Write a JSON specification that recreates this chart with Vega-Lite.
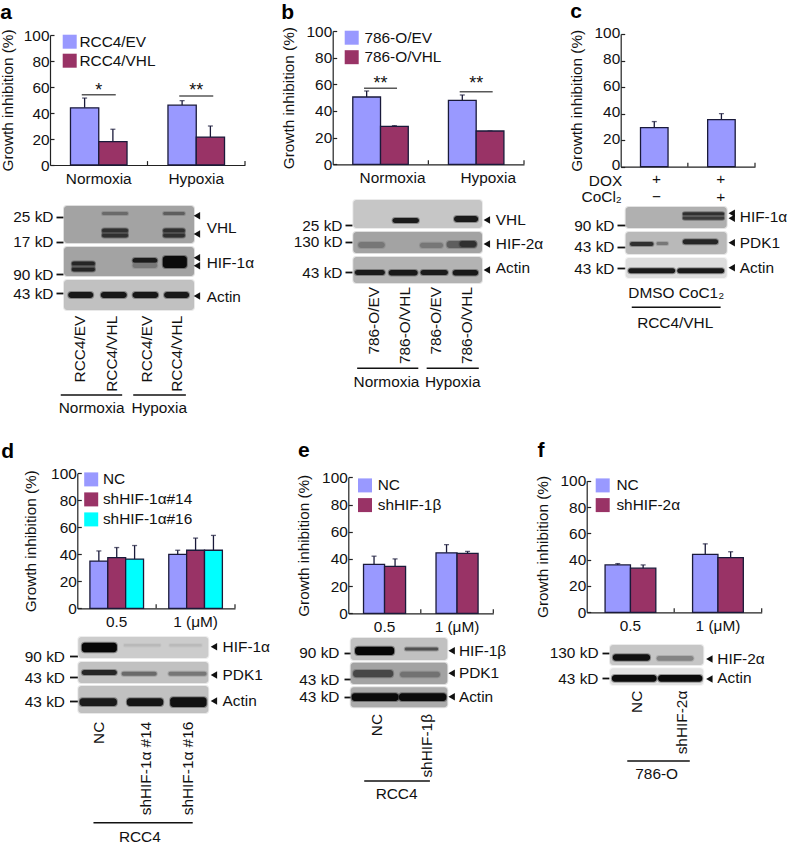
{"$schema":"https://vega.github.io/schema/vega-lite/v6.json","width":788,"height":846,"autosize":{"type":"none"},"padding":0,"background":"white",
"config":{"view":{"stroke":null},"text":{"font":"Liberation Sans","fontSize":15.4,"color":"#111"},"axis":{"labelFont":"Liberation Sans","labelFontSize":15.4,"labelColor":"#111","titleFont":"Liberation Sans","titleFontSize":15.3,"titleFontWeight":"normal","titleColor":"#111","grid":false,"domainColor":"#222","tickColor":"#222","domainWidth":1.2,"tickWidth":1.2,"labelOverlap":false,"labelFlush":false,"labelBound":false},"legend":{"labelFont":"Liberation Sans","labelFontSize":15.4,"labelColor":"#111","labelLimit":300}},
"resolve":{"scale":{"x":"independent","y":"independent","color":"independent","xOffset":"independent"},"axis":{"x":"independent","y":"independent"},"legend":{"color":"independent"}},
"layer":[
{"data":{"values":[{"c":"Normoxia","s":"RCC4/EV","v":44,"hi":51.5},{"c":"Normoxia","s":"RCC4/VHL","v":18,"hi":27.5},{"c":"Hypoxia","s":"RCC4/EV","v":46,"hi":49.5},{"c":"Hypoxia","s":"RCC4/VHL","v":21.5,"hi":30}]},
"encoding":{"x":{"field":"c","type":"nominal","sort":null,"scale":{"domain":["Normoxia","Hypoxia"],"range":[50,245],"paddingInner":0.42,"paddingOuter":0.21},"axis":{"orient":"bottom","offset":-681,"ticks":false,"labelPadding":6,"labelAngle":0,"title":null}},"y":{"field":"v","type":"quantitative","scale":{"domain":[0,100],"range":[165,35]},"axis":{"orient":"left","offset":-50,"values":[0,20,40,60,80,100],"tickSize":-4,"labelPadding":5,"title":"Growth inhibition (%)","titlePadding":8}}},
"layer":[
{"mark":{"type":"rule","color":"#1a1a3a","strokeWidth":1.3},"encoding":{"xOffset":{"field":"s","type":"nominal"},"y2":{"field":"hi"}}},
{"mark":{"type":"tick","orient":"horizontal","size":5,"thickness":1.3,"color":"#1a1a3a"},"encoding":{"xOffset":{"field":"s","type":"nominal"},"y":{"field":"hi","type":"quantitative"}}},
{"mark":{"type":"bar","stroke":"#1a1a3a","strokeWidth":1.3,"opacity":1},"encoding":{"xOffset":{"field":"s","type":"nominal"},"color":{"field":"s","type":"nominal","scale":{"domain":["RCC4/EV","RCC4/VHL"],"range":["#9999ff","#993366"]},"legend":{"orient":"none","legendX":62,"legendY":34,"title":null,"symbolType":"square","symbolSize":196,"symbolStrokeWidth":0,"labelOffset":2,"rowPadding":2,"padding":0}}}},
{"data":{"values":[{"c":"Normoxia","v":54},{"c":"Hypoxia","v":53}]},"mark":{"type":"tick","orient":"horizontal","size":34,"thickness":1.5,"color":"#111"}},
{"data":{"values":[{"c":"Normoxia","v":57,"t":"*"},{"c":"Hypoxia","v":57,"t":"**"}]},"mark":{"type":"text","fontSize":18},"encoding":{"text":{"field":"t"}}}
]},
{"data":{"values":[{"b":1},{"b":2}]},"mark":{"type":"rule","color":"#222","strokeWidth":1.2},"encoding":{"x":{"field":"b","type":"quantitative","scale":{"domain":[0,2],"range":[50,245]},"axis":null},"y":{"datum":0,"scale":{"domain":[0,100],"range":[165,35]},"axis":null},"y2":{"datum":3}}},
{"encoding":{"x":{"field":"x","type":"quantitative","scale":{"domain":[0,4],"range":[64,194]},"axis":null},"y":{"field":"y","type":"quantitative","scale":{"domain":[0,210],"range":[206,416]},"axis":{"orient":"left","offset":-63,"values":[10.7,35.7,68.3,87.3],"labelExpr":"datum.value==10.7?'25 kD':datum.value==35.7?'17 kD':datum.value==68.3?'90 kD':'43 kD'","tickSize":7,"tickWidth":1.8,"tickColor":"#111","domain":false,"labelPadding":3,"title":null}}},
"layer":[
{"data":{"values":[{"x":0,"x1":4,"y":0,"y1":37,"ink":0.33},{"x":0,"x1":4,"y":41,"y1":70,"ink":0.33},{"x":0,"x1":4,"y":74,"y1":104,"ink":0.22},{"x":1.17,"x1":1.97,"y":6,"y1":9,"ink":0.55},{"x":3.05,"x1":3.72,"y":6,"y1":9,"ink":0.6},{"x":1.17,"x1":1.97,"y":22,"y1":32,"ink":0.6},{"x":1.17,"x1":1.97,"y":23,"y1":26,"ink":0.8},{"x":1.17,"x1":1.97,"y":28,"y1":31,"ink":0.8},{"x":3.05,"x1":3.72,"y":22,"y1":32,"ink":0.6},{"x":3.05,"x1":3.72,"y":23,"y1":26,"ink":0.8},{"x":3.05,"x1":3.72,"y":28,"y1":31,"ink":0.8},{"x":0.24,"x1":0.95,"y":55,"y1":66,"ink":0.6},{"x":0.24,"x1":0.95,"y":56,"y1":59,"ink":0.85},{"x":0.24,"x1":0.95,"y":62,"y1":65,"ink":0.85},{"x":2.11,"x1":2.87,"y":52,"y1":57,"ink":0.9},{"x":2.11,"x1":2.87,"y":57,"y1":62,"ink":0.5},{"x":3.04,"x1":3.78,"y":50,"y1":62,"ink":0.97},{"x":0.13,"x1":0.9,"y":86,"y1":92,"ink":0.92},{"x":1.13,"x1":1.93,"y":86,"y1":92,"ink":0.92},{"x":2.11,"x1":2.9,"y":86,"y1":92,"ink":0.92},{"x":3.08,"x1":3.85,"y":86,"y1":92,"ink":0.92}]},"mark":{"type":"rect","strokeWidth":2,"strokeOpacity":0.35,"cornerRadius":3},"encoding":{"x2":{"field":"x1"},"y2":{"field":"y1"},"fill":{"field":"ink","type":"quantitative","scale":{"domain":[0,1],"range":["#ffffff","#000000"]},"legend":null},"stroke":{"field":"ink","type":"quantitative","scale":{"domain":[0,1],"range":["#ffffff","#000000"]},"legend":null}}},
{"data":{"values":[{"x":4.09,"y":9.7},{"x":4.09,"y":28},{"x":4.09,"y":51.7},{"x":4.09,"y":59.7},{"x":4.09,"y":90}]},"mark":{"type":"point","shape":"triangle-left","filled":true,"size":55,"color":"#111","opacity":1}},
{"data":{"values":[{"x":4.39,"y":21.7,"t":"VHL"},{"x":4.39,"y":57,"t":"HIF-1α"},{"x":4.39,"y":90.7,"t":"Actin"}]},"mark":{"type":"text","align":"left","baseline":"middle"},"encoding":{"text":{"field":"t"}}},
{"data":{"values":[{"x":0.49,"y":109.7,"t":"RCC4/EV"},{"x":1.47,"y":109.7,"t":"RCC4/VHL"},{"x":2.56,"y":109.7,"t":"RCC4/EV"},{"x":3.48,"y":109.7,"t":"RCC4/VHL"}]},"mark":{"type":"text","angle":270,"align":"right","baseline":"middle"},"encoding":{"text":{"field":"t"}}},
{"data":{"values":[{"x":0.85,"y":202,"t":"Normoxia"},{"x":2.93,"y":202,"t":"Hypoxia"}]},"mark":{"type":"text","baseline":"middle"},"encoding":{"text":{"field":"t"}}},
{"data":{"values":[{"x":-0.1,"x1":1.79,"y":189},{"x":2.13,"x1":3.75,"y":189}]},"mark":{"type":"rule","color":"#111","strokeWidth":1.5},"encoding":{"x2":{"field":"x1"}}},
{"data":{"values":[{"x":-1.78,"y":-187,"t":"a"}]},"mark":{"type":"text","fontSize":21,"fontWeight":"bold","baseline":"alphabetic","color":"#000"},"encoding":{"text":{"field":"t"}}}
]},

{"data":{"values":[{"c":"Normoxia","s":"786-O/EV","v":50.5,"hi":55},{"c":"Normoxia","s":"786-O/VHL","v":28.5,"hi":29},{"c":"Hypoxia","s":"786-O/EV","v":48,"hi":52},{"c":"Hypoxia","s":"786-O/VHL","v":25,"hi":25}]},
"encoding":{"x":{"field":"c","type":"nominal","sort":null,"scale":{"domain":["Normoxia","Hypoxia"],"range":[332.7,524],"paddingInner":0.42,"paddingOuter":0.21},"axis":{"orient":"bottom","offset":-681.7,"ticks":false,"labelPadding":6,"labelOffset":12,"labelAngle":0,"title":null}},"y":{"field":"v","type":"quantitative","scale":{"domain":[0,100],"range":[164.3,31]},"axis":{"orient":"left","offset":-332.7,"values":[0,20,40,60,80,100],"tickSize":-4,"labelPadding":5,"title":"Growth inhibition (%)","titlePadding":10}}},
"layer":[
{"mark":{"type":"rule","color":"#1a1a3a","strokeWidth":1.3},"encoding":{"xOffset":{"field":"s","type":"nominal"},"y2":{"field":"hi"}}},
{"mark":{"type":"tick","orient":"horizontal","size":5,"thickness":1.3,"color":"#1a1a3a"},"encoding":{"xOffset":{"field":"s","type":"nominal"},"y":{"field":"hi","type":"quantitative"}}},
{"mark":{"type":"bar","stroke":"#1a1a3a","strokeWidth":1.3,"opacity":1},"encoding":{"xOffset":{"field":"s","type":"nominal"},"color":{"field":"s","type":"nominal","scale":{"domain":["786-O/EV","786-O/VHL"],"range":["#9999ff","#993366"]},"legend":{"orient":"none","legendX":344,"legendY":30,"title":null,"symbolType":"square","symbolSize":196,"symbolStrokeWidth":0,"labelOffset":5,"rowPadding":2.5,"padding":0}}}},
{"data":{"values":[{"c":"Normoxia","v":57},{"c":"Hypoxia","v":54.5}]},"mark":{"type":"tick","orient":"horizontal","size":33,"thickness":1.5,"color":"#111"}},
{"data":{"values":[{"c":"Normoxia","v":60,"t":"**"},{"c":"Hypoxia","v":60,"t":"**"}]},"mark":{"type":"text","fontSize":18},"encoding":{"text":{"field":"t"}}}
]},
{"data":{"values":[{"b":1},{"b":2}]},"mark":{"type":"rule","color":"#222","strokeWidth":1.2},"encoding":{"x":{"field":"b","type":"quantitative","scale":{"domain":[0,2],"range":[332.7,524]},"axis":null},"y":{"datum":0,"scale":{"domain":[0,100],"range":[164.3,31]},"axis":null},"y2":{"datum":3}}},
{"encoding":{"x":{"field":"x","type":"quantitative","scale":{"domain":[0,4],"range":[353.3,482]},"axis":null},"y":{"field":"y","type":"quantitative","scale":{"domain":[0,190],"range":[200,390]},"axis":{"orient":"left","offset":-352,"values":[25,41.7,72.3],"labelExpr":"datum.value==25?'25 kD':datum.value==41.7?'130 kD':'43 kD'","tickSize":7,"tickWidth":1.8,"tickColor":"#111","domain":false,"labelPadding":3,"title":null}}},
"layer":[
{"data":{"values":[{"x":0,"x1":4,"y":0,"y1":28,"ink":0.2},{"x":0,"x1":4,"y":32,"y1":53,"ink":0.33},{"x":0,"x1":4,"y":57,"y1":83,"ink":0.27},{"x":1.22,"x1":2.04,"y":18,"y1":23,"ink":0.9},{"x":3.13,"x1":3.88,"y":16,"y1":22,"ink":0.9},{"x":0.15,"x1":0.98,"y":42,"y1":48,"ink":0.5},{"x":2.07,"x1":2.79,"y":42.7,"y1":48,"ink":0.5},{"x":2.9,"x1":3.83,"y":41,"y1":48,"ink":0.6},{"x":3.3,"x1":3.83,"y":41,"y1":47,"ink":0.8},{"x":0.05,"x1":0.98,"y":70,"y1":75,"ink":0.9},{"x":1.1,"x1":2,"y":70,"y1":75.5,"ink":0.92},{"x":2.09,"x1":2.94,"y":70,"y1":75,"ink":0.9},{"x":3.09,"x1":3.88,"y":70,"y1":75.5,"ink":0.92}]},"mark":{"type":"rect","strokeWidth":2,"strokeOpacity":0.35,"cornerRadius":3},"encoding":{"x2":{"field":"x1"},"y2":{"field":"y1"},"fill":{"field":"ink","type":"quantitative","scale":{"domain":[0,1],"range":["#ffffff","#000000"]},"legend":null},"stroke":{"field":"ink","type":"quantitative","scale":{"domain":[0,1],"range":["#ffffff","#000000"]},"legend":null}}},
{"data":{"values":[{"x":4.15,"y":20},{"x":4.15,"y":44},{"x":4.15,"y":70}]},"mark":{"type":"point","shape":"triangle-left","filled":true,"size":55,"color":"#111","opacity":1}},
{"data":{"values":[{"x":4.43,"y":20,"t":"VHL"},{"x":4.43,"y":44,"t":"HIF-2α"},{"x":4.43,"y":68,"t":"Actin"}]},"mark":{"type":"text","align":"left","baseline":"middle"},"encoding":{"text":{"field":"t"}}},
{"data":{"values":[{"x":0.65,"y":87,"t":"786-O/EV"},{"x":1.6,"y":87,"t":"786-O/VHL"},{"x":2.56,"y":87,"t":"786-O/EV"},{"x":3.52,"y":87,"t":"786-O/VHL"}]},"mark":{"type":"text","angle":270,"align":"right","baseline":"middle"},"encoding":{"text":{"field":"t"}}},
{"data":{"values":[{"x":1.03,"y":181.7,"t":"Normoxia"},{"x":3.09,"y":181.7,"t":"Hypoxia"}]},"mark":{"type":"text","baseline":"middle"},"encoding":{"text":{"field":"t"}}},
{"data":{"values":[{"x":0.12,"x1":2.02,"y":168.3},{"x":2.28,"x1":3.9,"y":168.3}]},"mark":{"type":"rule","color":"#111","strokeWidth":1.5},"encoding":{"x2":{"field":"x1"}}},
{"data":{"values":[{"x":-2.04,"y":-181,"t":"b"}]},"mark":{"type":"text","fontSize":21,"fontWeight":"bold","baseline":"alphabetic","color":"#000"},"encoding":{"text":{"field":"t"}}}
]},

{"data":{"values":[{"c":"A","v":29.5,"hi":34},{"c":"B","v":35.5,"hi":40}]},
"encoding":{"x":{"field":"c","type":"nominal","sort":null,"scale":{"domain":["A","B"],"range":[620.7,755],"paddingInner":0.59,"paddingOuter":0.295},"axis":{"orient":"bottom","offset":-679.3,"ticks":false,"labels":false,"title":null}},"y":{"field":"v","type":"quantitative","scale":{"domain":[0,100],"range":[166.7,34]},"axis":{"orient":"left","offset":-620.7,"values":[0,20,40,60,80,100],"tickSize":-4,"labelPadding":5,"labelOffset":-2,"title":"Growth inhibition (%)","titlePadding":10}}},
"layer":[
{"mark":{"type":"rule","color":"#1a1a3a","strokeWidth":1.3},"encoding":{"y2":{"field":"hi"}}},
{"mark":{"type":"tick","orient":"horizontal","size":5,"thickness":1.3,"color":"#1a1a3a"},"encoding":{"y":{"field":"hi","type":"quantitative"}}},
{"mark":{"type":"bar","color":"#9999ff","stroke":"#1a1a3a","strokeWidth":1.3}}
]},
{"data":{"values":[{"b":1},{"b":2}]},"mark":{"type":"rule","color":"#222","strokeWidth":1.2},"encoding":{"x":{"field":"b","type":"quantitative","scale":{"domain":[0,2],"range":[620.7,755]},"axis":null},"y":{"datum":0,"scale":{"domain":[0,100],"range":[166.7,34]},"axis":null},"y2":{"datum":3}}},
{"encoding":{"x":{"field":"x","type":"quantitative","scale":{"domain":[0,2],"range":[625.7,726.7]},"axis":null},"y":{"field":"y","type":"quantitative","scale":{"domain":[0,130],"range":[207,337]},"axis":{"orient":"left","offset":-625,"values":[18,39.7,61.3],"labelExpr":"datum.value==18?'90 kD':'43 kD'","tickSize":8,"tickWidth":1.8,"tickColor":"#111","domain":false,"labelPadding":3,"title":null}}},
"layer":[
{"data":{"values":[{"x":0,"x1":2,"y":0,"y1":21,"ink":0.28},{"x":0,"x1":2,"y":25,"y1":47,"ink":0.25},{"x":0,"x1":2,"y":51,"y1":71,"ink":0.12},{"x":1.13,"x1":1.95,"y":5,"y1":13,"ink":0.55},{"x":1.13,"x1":1.95,"y":5.5,"y1":8,"ink":0.8},{"x":1.13,"x1":1.95,"y":10,"y1":12.5,"ink":0.75},{"x":0.085,"x1":0.55,"y":35,"y1":39,"ink":0.8},{"x":0.61,"x1":0.84,"y":35,"y1":38,"ink":0.5},{"x":1.13,"x1":1.83,"y":32.3,"y1":37.3,"ink":0.85},{"x":0.05,"x1":0.98,"y":61.3,"y1":66.3,"ink":0.9},{"x":1.02,"x1":1.95,"y":61.3,"y1":66.3,"ink":0.9}]},"mark":{"type":"rect","strokeWidth":2,"strokeOpacity":0.35,"cornerRadius":3},"encoding":{"x2":{"field":"x1"},"y2":{"field":"y1"},"fill":{"field":"ink","type":"quantitative","scale":{"domain":[0,1],"range":["#ffffff","#000000"]},"legend":null},"stroke":{"field":"ink","type":"quantitative","scale":{"domain":[0,1],"range":["#ffffff","#000000"]},"legend":null}}},
{"data":{"values":[{"x":2.1,"y":6.3},{"x":2.1,"y":11.3},{"x":2.1,"y":35.7},{"x":2.1,"y":60.7}]},"mark":{"type":"point","shape":"triangle-left","filled":true,"size":55,"color":"#111","opacity":1}},
{"data":{"values":[{"x":2.26,"y":10.3,"t":"HIF-1α"},{"x":2.26,"y":35.7,"t":"PDK1"},{"x":2.26,"y":60.7,"t":"Actin"}]},"mark":{"type":"text","align":"left","baseline":"middle"},"encoding":{"text":{"field":"t"}}},
{"data":{"values":[{"x":-0.4,"y":-26.5,"t":"DOX"},{"x":0.61,"y":-27.7,"t":"+"},{"x":1.88,"y":-27.7,"t":"+"},{"x":-0.475,"y":-9.7,"t":"CoCl₂"},{"x":0.61,"y":-9.7,"t":"−"},{"x":1.88,"y":-9.7,"t":"+"},{"x":0.51,"y":85.7,"t":"DMSO"},{"x":1.5,"y":85.7,"t":"CoC1₂"},{"x":0.98,"y":115.7,"t":"RCC4/VHL"}]},"mark":{"type":"text","baseline":"middle"},"encoding":{"text":{"field":"t"}}},
{"data":{"values":[{"x":0.12,"x1":1.88,"y":100.3}]},"mark":{"type":"rule","color":"#111","strokeWidth":1.5},"encoding":{"x2":{"field":"x1"}}},
{"data":{"values":[{"x":-0.98,"y":-189,"t":"c"}]},"mark":{"type":"text","fontSize":21,"fontWeight":"bold","baseline":"alphabetic","color":"#000"},"encoding":{"text":{"field":"t"}}}
]},

{"data":{"values":[{"c":"0.5","s":"NC","v":35,"hi":42.5},{"c":"0.5","s":"shHIF-1α#14","v":37.5,"hi":45},{"c":"0.5","s":"shHIF-1α#16","v":36.5,"hi":46.5},{"c":"1 (μM)","s":"NC","v":40,"hi":43},{"c":"1 (μM)","s":"shHIF-1α#14","v":43,"hi":52},{"c":"1 (μM)","s":"shHIF-1α#16","v":43,"hi":54}]},
"encoding":{"x":{"field":"c","type":"nominal","sort":null,"scale":{"domain":["0.5","1 (μM)"],"range":[77.3,235],"paddingInner":0.32,"paddingOuter":0.16},"axis":{"orient":"bottom","offset":-237.7,"ticks":false,"labelPadding":6,"labelAngle":0,"title":null}},"y":{"field":"v","type":"quantitative","scale":{"domain":[0,100],"range":[608.3,473.3]},"axis":{"orient":"left","offset":-77.3,"values":[0,20,40,60,80,100],"tickSize":-4,"labelPadding":5,"title":"Growth inhibition (%)","titlePadding":12}}},
"layer":[
{"mark":{"type":"rule","color":"#1a1a3a","strokeWidth":1.3},"encoding":{"xOffset":{"field":"s","type":"nominal"},"y2":{"field":"hi"}}},
{"mark":{"type":"tick","orient":"horizontal","size":5,"thickness":1.3,"color":"#1a1a3a"},"encoding":{"xOffset":{"field":"s","type":"nominal"},"y":{"field":"hi","type":"quantitative"}}},
{"mark":{"type":"bar","stroke":"#1a1a3a","strokeWidth":1.3,"opacity":1},"encoding":{"xOffset":{"field":"s","type":"nominal"},"color":{"field":"s","type":"nominal","scale":{"domain":["NC","shHIF-1α#14","shHIF-1α#16"],"range":["#9999ff","#993366","#00ffff"]},"legend":{"orient":"none","legendX":83.5,"legendY":471.7,"title":null,"symbolType":"square","symbolSize":196,"symbolStrokeWidth":0,"labelOffset":4,"rowPadding":3,"padding":0}}}}
]},
{"data":{"values":[{"b":1},{"b":2}]},"mark":{"type":"rule","color":"#222","strokeWidth":1.2},"encoding":{"x":{"field":"b","type":"quantitative","scale":{"domain":[0,2],"range":[77.3,235]},"axis":null},"y":{"datum":0,"scale":{"domain":[0,100],"range":[608.3,473.3]},"axis":null},"y2":{"datum":3}}},
{"encoding":{"x":{"field":"x","type":"quantitative","scale":{"domain":[0,3],"range":[78.3,208.3]},"axis":null},"y":{"field":"y","type":"quantitative","scale":{"domain":[0,205],"range":[637,842]},"axis":{"orient":"left","offset":-77.5,"values":[19,40.3,64],"labelExpr":"datum.value==19?'90 kD':'43 kD'","tickSize":8,"tickWidth":1.8,"tickColor":"#111","domain":false,"labelPadding":5,"title":null}}},
"layer":[
{"data":{"values":[{"x":0,"x1":3,"y":0,"y1":21,"ink":0.18},{"x":0,"x1":3,"y":25,"y1":46,"ink":0.22},{"x":0,"x1":3,"y":49,"y1":76,"ink":0.22},{"x":0.08,"x1":0.89,"y":5.7,"y1":15.3,"ink":0.98},{"x":1.05,"x1":1.9,"y":7,"y1":9.5,"ink":0.25},{"x":2.1,"x1":2.85,"y":7,"y1":9.5,"ink":0.24},{"x":0.08,"x1":0.89,"y":33,"y1":38,"ink":0.85},{"x":1,"x1":1.81,"y":34.7,"y1":38.7,"ink":0.55},{"x":2.08,"x1":2.96,"y":34.7,"y1":38.7,"ink":0.5},{"x":0.03,"x1":0.89,"y":61.3,"y1":69,"ink":0.9},{"x":1.12,"x1":1.96,"y":61.3,"y1":69,"ink":0.93},{"x":2.12,"x1":2.96,"y":60.3,"y1":70,"ink":0.95}]},"mark":{"type":"rect","strokeWidth":2,"strokeOpacity":0.35,"cornerRadius":3},"encoding":{"x2":{"field":"x1"},"y2":{"field":"y1"},"fill":{"field":"ink","type":"quantitative","scale":{"domain":[0,1],"range":["#ffffff","#000000"]},"legend":null},"stroke":{"field":"ink","type":"quantitative","scale":{"domain":[0,1],"range":["#ffffff","#000000"]},"legend":null}}},
{"data":{"values":[{"x":3.13,"y":9.7},{"x":3.13,"y":38},{"x":3.13,"y":64}]},"mark":{"type":"point","shape":"triangle-left","filled":true,"size":55,"color":"#111","opacity":1}},
{"data":{"values":[{"x":3.33,"y":9.7,"t":"HIF-1α"},{"x":3.33,"y":38,"t":"PDK1"},{"x":3.33,"y":64,"t":"Actin"}]},"mark":{"type":"text","align":"left","baseline":"middle"},"encoding":{"text":{"field":"t"}}},
{"data":{"values":[{"x":0.48,"y":84.7,"t":"NC"},{"x":1.56,"y":84.7,"t":"shHIF-1α #14"},{"x":2.54,"y":84.7,"t":"shHIF-1α #16"}]},"mark":{"type":"text","angle":270,"align":"right","baseline":"middle"},"encoding":{"text":{"field":"t"}}},
{"data":{"values":[{"x":1.42,"y":200.3,"t":"RCC4"}]},"mark":{"type":"text","baseline":"middle"},"encoding":{"text":{"field":"t"}}},
{"data":{"values":[{"x":0.35,"x1":2.64,"y":185.7}]},"mark":{"type":"rule","color":"#111","strokeWidth":1.5},"encoding":{"x2":{"field":"x1"}}},
{"data":{"values":[{"x":-1.63,"y":-179,"t":"d"}]},"mark":{"type":"text","fontSize":21,"fontWeight":"bold","baseline":"alphabetic","color":"#000"},"encoding":{"text":{"field":"t"}}}
]},

{"data":{"values":[{"c":"0.5","s":"NC","v":36,"hi":42},{"c":"0.5","s":"shHIF-1β","v":34.5,"hi":40},{"c":"1 (μM)","s":"NC","v":44.5,"hi":50.5},{"c":"1 (μM)","s":"shHIF-1β","v":44,"hi":45.5}]},
"encoding":{"x":{"field":"c","type":"nominal","sort":null,"scale":{"domain":["0.5","1 (μM)"],"range":[348.3,493.3],"paddingInner":0.42,"paddingOuter":0.21},"axis":{"orient":"bottom","offset":-232.7,"ticks":false,"labelPadding":6,"labelAngle":0,"title":null}},"y":{"field":"v","type":"quantitative","scale":{"domain":[0,100],"range":[613.3,477.3]},"axis":{"orient":"left","offset":-348.3,"values":[0,20,40,60,80,100],"tickSize":-4,"labelPadding":5,"title":"Growth inhibition (%)","titlePadding":10}}},
"layer":[
{"mark":{"type":"rule","color":"#1a1a3a","strokeWidth":1.3},"encoding":{"xOffset":{"field":"s","type":"nominal"},"y2":{"field":"hi"}}},
{"mark":{"type":"tick","orient":"horizontal","size":5,"thickness":1.3,"color":"#1a1a3a"},"encoding":{"xOffset":{"field":"s","type":"nominal"},"y":{"field":"hi","type":"quantitative"}}},
{"mark":{"type":"bar","stroke":"#1a1a3a","strokeWidth":1.3,"opacity":1},"encoding":{"xOffset":{"field":"s","type":"nominal"},"color":{"field":"s","type":"nominal","scale":{"domain":["NC","shHIF-1β"],"range":["#9999ff","#993366"]},"legend":{"orient":"none","legendX":357.3,"legendY":477.7,"title":null,"symbolType":"square","symbolSize":196,"symbolStrokeWidth":0,"labelOffset":5,"rowPadding":2.7,"padding":0}}}}
]},
{"data":{"values":[{"b":1},{"b":2}]},"mark":{"type":"rule","color":"#222","strokeWidth":1.2},"encoding":{"x":{"field":"b","type":"quantitative","scale":{"domain":[0,2],"range":[348.3,493.3]},"axis":null},"y":{"datum":0,"scale":{"domain":[0,100],"range":[613.3,477.3]},"axis":null},"y2":{"datum":3}}},
{"encoding":{"x":{"field":"x","type":"quantitative","scale":{"domain":[0,2],"range":[350.7,447.3]},"axis":null},"y":{"field":"y","type":"quantitative","scale":{"domain":[0,165],"range":[638,803]},"axis":{"orient":"left","offset":-351,"values":[14.7,41,58.7],"labelExpr":"datum.value==14.7?'90 kD':'43 kD'","tickSize":7,"tickWidth":1.8,"tickColor":"#111","domain":false,"labelPadding":5,"title":null}}},
"layer":[
{"data":{"values":[{"x":0,"x1":2,"y":0,"y1":22,"ink":0.22},{"x":0,"x1":2,"y":24.7,"y1":46,"ink":0.33},{"x":0,"x1":2,"y":49.3,"y1":69.3,"ink":0.3},{"x":0.09,"x1":0.9,"y":8.7,"y1":17,"ink":0.98},{"x":1.12,"x1":1.81,"y":9.5,"y1":12.5,"ink":0.65},{"x":0.05,"x1":0.88,"y":32,"y1":39.3,"ink":0.7},{"x":1.02,"x1":1.85,"y":33.7,"y1":39.3,"ink":0.52},{"x":0.02,"x1":0.99,"y":55.3,"y1":63,"ink":0.97},{"x":1,"x1":1.98,"y":55.3,"y1":63,"ink":0.97}]},"mark":{"type":"rect","strokeWidth":2,"strokeOpacity":0.35,"cornerRadius":3},"encoding":{"x2":{"field":"x1"},"y2":{"field":"y1"},"fill":{"field":"ink","type":"quantitative","scale":{"domain":[0,1],"range":["#ffffff","#000000"]},"legend":null},"stroke":{"field":"ink","type":"quantitative","scale":{"domain":[0,1],"range":["#ffffff","#000000"]},"legend":null}}},
{"data":{"values":[{"x":2.09,"y":12.7},{"x":2.09,"y":35.3},{"x":2.09,"y":58.7}]},"mark":{"type":"point","shape":"triangle-left","filled":true,"size":55,"color":"#111","opacity":1}},
{"data":{"values":[{"x":2.24,"y":12.7,"t":"HIF-1β"},{"x":2.24,"y":35.3,"t":"PDK1"},{"x":2.24,"y":58.7,"t":"Actin"}]},"mark":{"type":"text","align":"left","baseline":"middle"},"encoding":{"text":{"field":"t"}}},
{"data":{"values":[{"x":0.54,"y":76,"t":"NC"},{"x":1.57,"y":76,"t":"shHIF-1β"}]},"mark":{"type":"text","angle":270,"align":"right","baseline":"middle"},"encoding":{"text":{"field":"t"}}},
{"data":{"values":[{"x":0.95,"y":156,"t":"RCC4"}]},"mark":{"type":"text","baseline":"middle"},"encoding":{"text":{"field":"t"}}},
{"data":{"values":[{"x":0.28,"x1":1.64,"y":143}]},"mark":{"type":"rule","color":"#111","strokeWidth":1.5},"encoding":{"x2":{"field":"x1"}}},
{"data":{"values":[{"x":-0.97,"y":-181,"t":"e"}]},"mark":{"type":"text","fontSize":21,"fontWeight":"bold","baseline":"alphabetic","color":"#000"},"encoding":{"text":{"field":"t"}}}
]},

{"data":{"values":[{"c":"0.5","s":"NC","v":36,"hi":37},{"c":"0.5","s":"shHIF-2α","v":33.5,"hi":36},{"c":"1 (μM)","s":"NC","v":44,"hi":52},{"c":"1 (μM)","s":"shHIF-2α","v":41.5,"hi":46}]},
"encoding":{"x":{"field":"c","type":"nominal","sort":null,"scale":{"domain":["0.5","1 (μM)"],"range":[586.7,761.7],"paddingInner":0.42,"paddingOuter":0.21},"axis":{"orient":"bottom","offset":-233.7,"ticks":false,"labelPadding":6,"labelAngle":0,"title":null}},"y":{"field":"v","type":"quantitative","scale":{"domain":[0,100],"range":[612.3,480.7]},"axis":{"orient":"left","offset":-586.7,"values":[0,20,40,60,80,100],"tickSize":-4,"labelPadding":5,"title":"Growth inhibition (%)","titlePadding":10}}},
"layer":[
{"mark":{"type":"rule","color":"#1a1a3a","strokeWidth":1.3},"encoding":{"xOffset":{"field":"s","type":"nominal"},"y2":{"field":"hi"}}},
{"mark":{"type":"tick","orient":"horizontal","size":5,"thickness":1.3,"color":"#1a1a3a"},"encoding":{"xOffset":{"field":"s","type":"nominal"},"y":{"field":"hi","type":"quantitative"}}},
{"mark":{"type":"bar","stroke":"#1a1a3a","strokeWidth":1.3,"opacity":1},"encoding":{"xOffset":{"field":"s","type":"nominal"},"color":{"field":"s","type":"nominal","scale":{"domain":["NC","shHIF-2α"],"range":["#9999ff","#993366"]},"legend":{"orient":"none","legendX":595,"legendY":477.7,"title":null,"symbolType":"square","symbolSize":196,"symbolStrokeWidth":0,"labelOffset":6,"rowPadding":2.7,"padding":0}}}}
]},
{"data":{"values":[{"b":1},{"b":2}]},"mark":{"type":"rule","color":"#222","strokeWidth":1.2},"encoding":{"x":{"field":"b","type":"quantitative","scale":{"domain":[0,2],"range":[586.7,761.7]},"axis":null},"y":{"datum":0,"scale":{"domain":[0,100],"range":[612.3,480.7]},"axis":null},"y2":{"datum":3}}},
{"encoding":{"x":{"field":"x","type":"quantitative","scale":{"domain":[0,2],"range":[610,703.3]},"axis":null},"y":{"field":"y","type":"quantitative","scale":{"domain":[0,135],"range":[645,780]},"axis":{"orient":"left","offset":-609,"values":[7.7,33.3],"labelExpr":"datum.value==7.7?'130 kD':'43 kD'","tickSize":7,"tickWidth":1.8,"tickColor":"#111","domain":false,"labelPadding":4,"title":null}}},
"layer":[
{"data":{"values":[{"x":0,"x1":2,"y":0,"y1":20,"ink":0.2},{"x":0,"x1":2,"y":23.3,"y1":40,"ink":0.1},{"x":0.06,"x1":0.86,"y":9.3,"y1":15.7,"ink":0.95},{"x":1,"x1":1.79,"y":11,"y1":15.7,"ink":0.45},{"x":0.04,"x1":1,"y":30,"y1":36.7,"ink":0.97},{"x":1.03,"x1":1.98,"y":30,"y1":36.7,"ink":0.97}]},"mark":{"type":"rect","strokeWidth":2,"strokeOpacity":0.35,"cornerRadius":3},"encoding":{"x2":{"field":"x1"},"y2":{"field":"y1"},"fill":{"field":"ink","type":"quantitative","scale":{"domain":[0,1],"range":["#ffffff","#000000"]},"legend":null},"stroke":{"field":"ink","type":"quantitative","scale":{"domain":[0,1],"range":["#ffffff","#000000"]},"legend":null}}},
{"data":{"values":[{"x":2.13,"y":14},{"x":2.13,"y":34}]},"mark":{"type":"point","shape":"triangle-left","filled":true,"size":55,"color":"#111","opacity":1}},
{"data":{"values":[{"x":2.3,"y":14,"t":"HIF-2α"},{"x":2.3,"y":33.3,"t":"Actin"}]},"mark":{"type":"text","align":"left","baseline":"middle"},"encoding":{"text":{"field":"t"}}},
{"data":{"values":[{"x":0.57,"y":45.7,"t":"NC"},{"x":1.54,"y":45.7,"t":"shHIF-2α"}]},"mark":{"type":"text","angle":270,"align":"right","baseline":"middle"},"encoding":{"text":{"field":"t"}}},
{"data":{"values":[{"x":1,"y":129.3,"t":"786-O"}]},"mark":{"type":"text","baseline":"middle"},"encoding":{"text":{"field":"t"}}},
{"data":{"values":[{"x":0.37,"x1":1.71,"y":116}]},"mark":{"type":"rule","color":"#111","strokeWidth":1.5},"encoding":{"x2":{"field":"x1"}}},
{"data":{"values":[{"x":-1.48,"y":-188,"t":"f"}]},"mark":{"type":"text","fontSize":21,"fontWeight":"bold","baseline":"alphabetic","color":"#000"},"encoding":{"text":{"field":"t"}}}
]}
]}
